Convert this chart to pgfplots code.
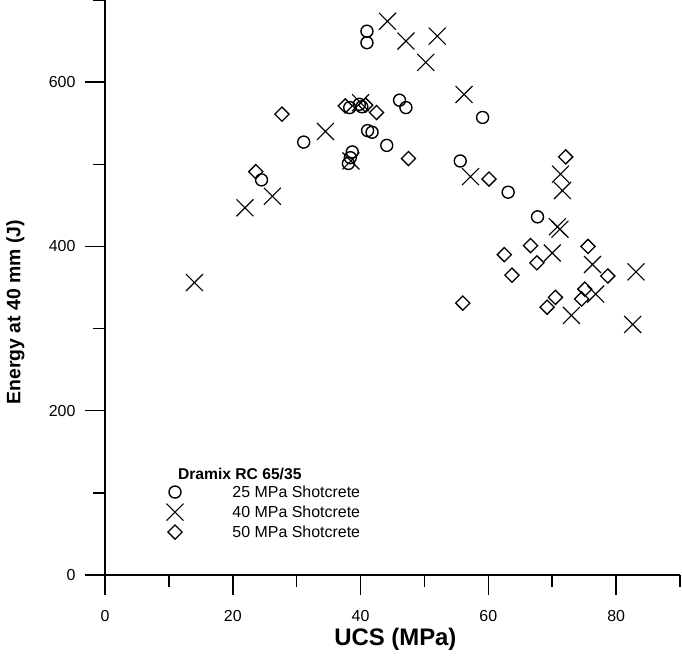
\documentclass[border=0pt]{standalone}
\usepackage{pgfplots}
\pgfplotsset{compat=1.18}
\usepackage{fontspec}
\setmainfont{Liberation Sans}
\begin{document}
\begin{tikzpicture}[x=1bp,y=1bp]
\useasboundingbox (-105,-82) rectangle (577,575);
\begin{axis}[
  at={(0,0)}, anchor=south west,
  scale only axis, width=575bp, height=575bp,
  xmin=0, xmax=90, ymin=0, ymax=700,
  axis x line*=bottom, axis y line*=left,
  axis line style={line width=1.5bp},
  xtick align=outside, ytick align=outside,
  major tick length=20bp, minor tick length=12bp,
  tick style={black, line width=1.5bp},
  xtick={0,20,40,60,80},
  ytick={0,200,400,600},
  extra x ticks={10,30,50,70,90}, extra x tick labels={},
  extra y ticks={100,300,500,700}, extra y tick labels={},
  extra x tick style={xtick align=outside, major tick length=12bp},
  extra y tick style={ytick align=outside, major tick length=12bp},
  /pgf/number format/assume math mode=true,
  tick label style={font=\fontsize{16}{19}\selectfont},
  yticklabel style={xshift=-6bp},
  xticklabel style={yshift=-12bp},
  xlabel={UCS (MPa)},
  ylabel={Energy at 40 mm (J)},
  x label style={font=\bfseries\fontsize{24}{28}\selectfont, at={(axis description cs:0.505,0)}, anchor=center, yshift=-64bp},
  y label style={font=\bfseries\fontsize{19.5}{23}\selectfont, at={(axis description cs:-0.156,0.457)}, anchor=center},
  legend style={draw=none, fill=none, inner sep=0pt, at={(axis cs:9.6,111.6)}, anchor=north west,
    font=\fontsize{16}{19}\selectfont, row sep=3bp,
    /tikz/every odd column/.append style={column sep=47bp}},
  legend cell align=left,
  clip=false,
]
\addplot[only marks, mark=o, mark size=6bp, mark options={line width=1.4bp}] coordinates {
(24.5,481) (31.1,527) (38.1,501) (38.4,508) (38.7,515) (38.3,569) (39.8,573) (40.2,570)
(41.0,662) (41.0,648) (41.1,541) (41.8,539) (44.1,523) (46.1,578) (47.1,569) (55.6,504)
(59.1,557) (63.1,466) (67.7,436)
};
\addlegendentry{25 MPa Shotcrete}
\addplot[only marks, mark=x, mark size=12bp, mark options={line width=1.1bp}] coordinates {
(14.0,356) (21.9,447) (26.2,461) (34.5,540) (38.5,504) (40.0,575) (44.2,674) (47.1,650)
(50.2,624) (52.0,656) (56.2,585) (57.2,485) (70.0,392) (70.8,424) (71.2,421) (71.3,488)
(71.6,468) (73.0,316) (76.3,378) (76.8,342) (82.6,305) (83.1,369)
};
\addlegendentry{40 MPa Shotcrete}
\addplot[only marks, mark=square, mark size=5bp, mark options={rotate=45, line width=1.3bp}] coordinates {
(23.6,491) (27.7,561) (37.6,571) (40.8,572) (42.5,563) (47.5,507) (56.0,331) (60.1,482)
(62.5,390) (63.7,365) (66.6,401) (67.6,380) (69.2,326) (70.5,338) (72.1,509) (74.6,336)
(75.1,348) (75.6,400) (78.7,364)
};
\addlegendentry{50 MPa Shotcrete}
\node[anchor=west, inner sep=0pt, font=\bfseries\fontsize{15.7}{18}\selectfont] at (axis cs:11.4,122.5) {Dramix RC 65/35};
\end{axis}
\end{tikzpicture}
\end{document}
